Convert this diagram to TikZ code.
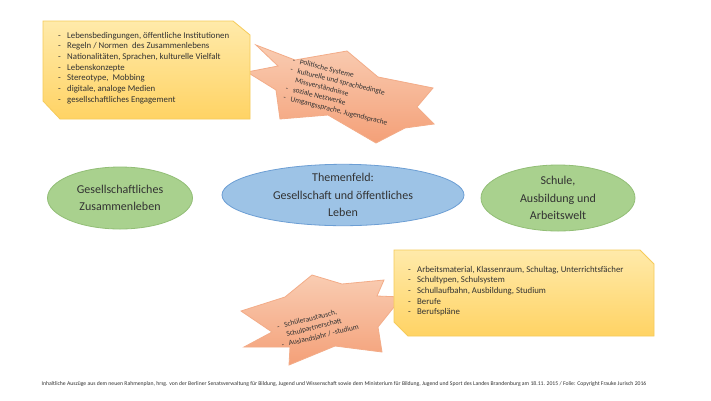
\documentclass[tikz,border=0pt]{standalone}
\usepackage{fontspec}
\setmainfont{Carlito}
\usetikzlibrary{shapes.geometric}
\definecolor{boxtop}{RGB}{255,234,170}
\definecolor{boxbot}{RGB}{255,211,100}
\definecolor{boxline}{RGB}{246,203,90}
\definecolor{startop}{RGB}{249,204,178}
\definecolor{starbot}{RGB}{244,160,120}
\definecolor{starline}{RGB}{243,172,136}
\definecolor{greenfill}{RGB}{169,209,142}
\definecolor{greenline}{RGB}{146,190,118}
\definecolor{bluefill}{RGB}{157,195,230}
\definecolor{blueline}{RGB}{108,158,212}
\definecolor{txt}{RGB}{50,50,50}
\newcommand\lbul{\makebox[9pt][l]{-}}
\tikzset{
  listbox/.style={top color=boxtop, bottom color=boxbot, draw=boxline, line width=0.8pt},
  starshape/.style={top color=startop, bottom color=starbot, draw=starline, line width=0.8pt},
  greenell/.style={ellipse, fill=greenfill, draw=greenline, line width=0.8pt, inner sep=0pt, align=center, text=txt, font=\fontsize{12}{17.5}\selectfont},
  blueell/.style={ellipse, fill=bluefill, draw=blueline, line width=0.8pt, inner sep=0pt, align=center, text=txt, font=\fontsize{12}{17.5}\selectfont},
  listtext/.style={inner sep=0pt, anchor=base west, text=txt, font=\fontsize{8.8}{10.7}\selectfont},
  startext/.style={inner sep=0pt, text=txt, font=\fontsize{7.4}{9.6}\selectfont}
}
\begin{document}
\begin{tikzpicture}[x=1pt,y=-1pt]
\useasboundingbox (0,0) rectangle (711,400);
\fill[white] (0,0) rectangle (711,400);

% top star
\path[starshape] (256,45) -- (295,60) -- (347,51) -- (378,77) -- (433,88) -- (417,107) -- (434,124) -- (405,128) -- (376,143) -- (328,115) -- (280,119) -- (276,90) -- (247,72) -- (278,66) -- cycle;
% top box
\path[listbox] (43,21) -- (233,21) -- (250,35) -- (250,119) -- (60,119) -- (43,101) -- cycle;
\node[listtext] (toplist) at (58,38) {\begin{tabular}[t]{@{}l@{}}
\lbul Lebensbedingungen, öffentliche Institutionen\\
\lbul Regeln / Normen\ \ des Zusammenlebens\\
\lbul Nationalitäten, Sprachen, kulturelle Vielfalt\\
\lbul Lebenskonzepte\\
\lbul Stereotype,\ \ Mobbing\\
\lbul digitale, analoge Medien\\
\lbul gesellschaftliches Engagement
\end{tabular}};
\node[startext, rotate=-14] (toptxt) at (340,92) {\begin{tabular}{@{}l@{\hspace{5pt}}l@{}}
- & Politische Systeme\\
- & kulturelle und sprachbedingte\\
  & Missverständnisse\\
- & soziale Netzwerke\\
- & Umgangssprache, Jugendsprache
\end{tabular}};

% ellipses
\node[greenell, minimum width=145pt, minimum height=62pt] (gz) at (120,198) {Gesellschaftliches\\Zusammenleben};
\node[blueell, minimum width=242pt, minimum height=56pt] (tf) at (343,195) {Themenfeld:\\Gesellschaft und öffentliches\\Leben};
\node[greenell, minimum width=154pt, minimum height=66pt] (sa) at (558,198) {Schule,\\Ausbildung und\\Arbeitswelt};

% bottom star
\path[starshape] (312,275) -- (342,284) -- (384,280) -- (377,296) -- (402,297) -- (378,327) -- (382,352) -- (335,346) -- (289,365) -- (290,347) -- (244,347) -- (272,332) -- (241,311) -- (285,297) -- cycle;
% bottom box
\path[listbox] (394,250) -- (640,250) -- (654,264) -- (654,336) -- (408,336) -- (394,322) -- cycle;
\node[listtext] (botlist) at (408,272) {\begin{tabular}[t]{@{}l@{}}
\lbul Arbeitsmaterial, Klassenraum, Schultag, Unterrichtsfächer\\
\lbul Schultypen, Schulsystem\\
\lbul Schullaufbahn, Ausbildung, Studium\\
\lbul Berufe\\
\lbul Berufspläne
\end{tabular}};
\node[startext, rotate=14] (bottxt) at (318,327) {\begin{tabular}{@{}l@{\hspace{5pt}}l@{}}
- & Schüleraustausch,\\
  & Schulpartnerschaft\\
- & Auslandsjahr / -studium
\end{tabular}};

% footer
\node[inner sep=0pt, text=txt, font=\fontsize{5.7}{6}\selectfont] (foot) at (344,384) {Inhaltliche Auszüge aus dem neuen Rahmenplan, hrsg. von der Berliner Senatsverwaltung für Bildung, Jugend und Wissenschaft sowie dem Ministerium für Bildung, Jugend und Sport des Landes Brandenburg am 18.11. 2015 / Folie: Copyright Frauke Jurisch 2016};
\end{tikzpicture}
\end{document}
